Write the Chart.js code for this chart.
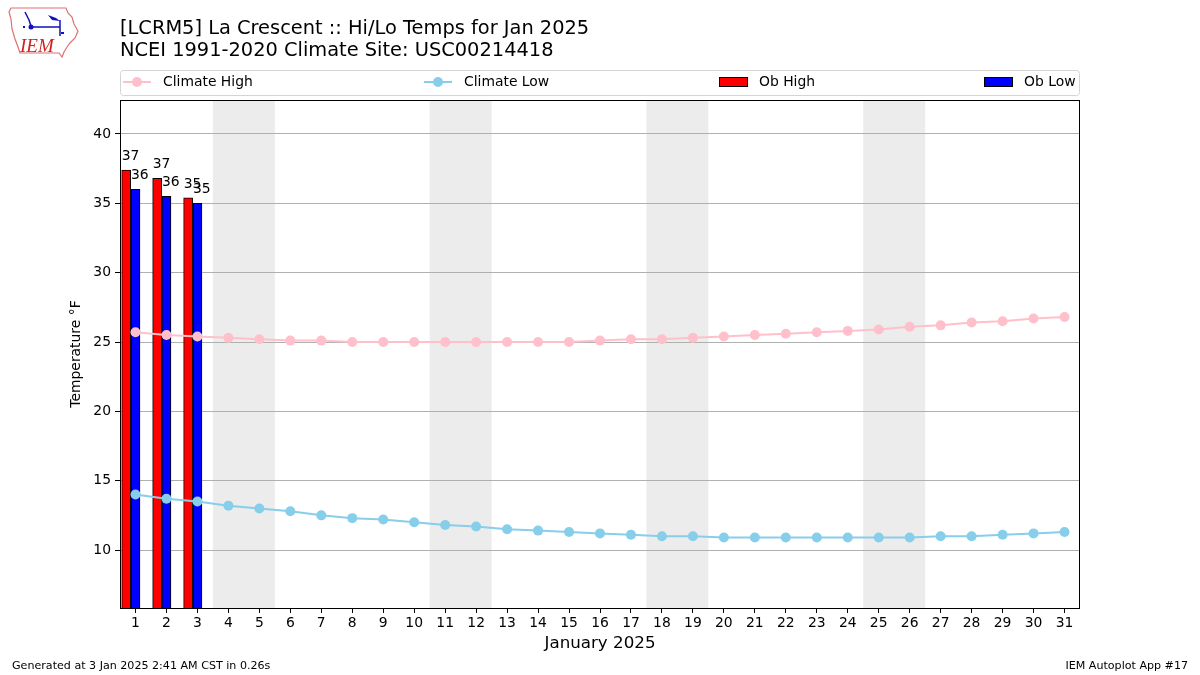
<!DOCTYPE html>
<html>
<head>
<meta charset="utf-8">
<script src="https://cdn.jsdelivr.net/npm/chart.js@4.4.1/dist/chart.umd.min.js"></script>
<style>
  html, body { margin: 0; padding: 0; background: #fff; }
  canvas { display: block; }
</style>
</head>
<body>
<canvas id="chart" width="1200" height="675"></canvas>
<script>
// days of January 2025
const days = [1, 2, 3, 4, 5, 6, 7, 8, 9, 10, 11, 12, 13, 14, 15, 16, 17, 18, 19, 20,
  21, 22, 23, 24, 25, 26, 27, 28, 29, 30, 31];
const climateHigh = [25.7, 25.5, 25.4, 25.3, 25.2, 25.1, 25.1, 25.0, 25.0, 25.0, 25.0,
  25.0, 25.0, 25.0, 25.0, 25.1, 25.2, 25.2, 25.3, 25.4, 25.5, 25.6, 25.7, 25.8, 25.9,
  26.1, 26.2, 26.4, 26.5, 26.7, 26.8];
const climateLow = [14.0, 13.7, 13.5, 13.2, 13.0, 12.8, 12.5, 12.3, 12.2, 12.0, 11.8,
  11.7, 11.5, 11.4, 11.3, 11.2, 11.1, 11.0, 11.0, 10.9, 10.9, 10.9, 10.9, 10.9, 10.9,
  10.9, 11.0, 11.0, 11.1, 11.2, 11.3];
const obDays = [1, 2, 3];
const obHigh = [37.4, 36.8, 35.4];
const obLow = [36.0, 35.5, 35.0];
const weekends = [[4, 5], [11, 12], [18, 19], [25, 26]];
const yTicks = [10, 15, 20, 25, 30, 35, 40];

const FONT = "'DejaVu Sans', sans-serif";

const legendItems = [
  { label: 'Climate High', kind: 'line', color: '#ffc0cb', x: 123 },
  { label: 'Climate Low', kind: 'line', color: '#87ceeb', x: 424 },
  { label: 'Ob High', kind: 'rect', color: '#ff0000', x: 719 },
  { label: 'Ob Low', kind: 'rect', color: '#0000ff', x: 984 },
];

function drawLogo(ctx) {
  ctx.save();
  // state outline
  ctx.strokeStyle = '#e07070';
  ctx.lineWidth = 1.2;
  ctx.beginPath();
  const pts = [[11, 8], [66, 8], [68, 13], [72, 17], [74, 24], [78, 31], [75, 38], [70, 43],
    [67, 47], [64, 52], [62, 57], [59, 53], [20, 53], [18, 47], [15, 39], [12, 29], [11, 19], [9, 12]];
  pts.forEach(([px, py], i) => i ? ctx.lineTo(px, py) : ctx.moveTo(px, py));
  ctx.closePath();
  ctx.stroke();
  // blue figure
  ctx.strokeStyle = '#1010c0';
  ctx.fillStyle = '#1010c0';
  ctx.lineWidth = 1.5;
  ctx.beginPath();
  ctx.moveTo(31, 27); ctx.lineTo(60, 27);
  ctx.moveTo(60, 20); ctx.lineTo(60, 36);
  ctx.moveTo(25, 12); ctx.lineTo(29, 20); ctx.lineTo(31, 26);
  ctx.stroke();
  ctx.beginPath(); ctx.arc(31, 27, 2.5, 0, Math.PI * 2); ctx.fill();
  ctx.beginPath();
  ctx.moveTo(48, 15); ctx.lineTo(56, 18); ctx.lineTo(60, 21); ctx.lineTo(52, 20); ctx.closePath();
  ctx.fill();
  ctx.fillRect(23, 26, 2, 2);
  ctx.fillRect(61, 32, 3, 2);
  // IEM
  ctx.fillStyle = '#d02020';
  ctx.font = "italic 19px 'Liberation Serif', 'DejaVu Serif', serif";
  ctx.textAlign = 'left';
  ctx.textBaseline = 'alphabetic';
  ctx.fillText('IEM', 20, 52);
  ctx.restore();
}

const decor = {
  id: 'decor',
  beforeDraw(chart) {
    const { ctx, chartArea: a, scales: { x } } = chart;
    ctx.save();
    ctx.fillStyle = '#ececec';
    weekends.forEach(([s, e]) => {
      const x0 = x.getPixelForValue(s - 0.5);
      const x1 = x.getPixelForValue(e + 0.5);
      ctx.fillRect(x0, a.top, x1 - x0, a.bottom - a.top);
    });
    ctx.restore();
  },
  afterDatasetsDraw(chart) {
    const { ctx } = chart;
    ctx.save();
    ctx.fillStyle = '#000';
    ctx.font = '13.9px ' + FONT;
    ctx.textAlign = 'left';
    ctx.textBaseline = 'alphabetic';
    [2, 3].forEach(di => {
      const meta = chart.getDatasetMeta(di);
      const vals = di === 2 ? obHigh : obLow;
      meta.data.forEach((bar, j) => {
        ctx.fillText(Math.round(vals[j]).toString(), bar.x - bar.width / 2, bar.y - 10);
      });
    });
    ctx.restore();
  },
  afterDraw(chart) {
    const { ctx, chartArea: a } = chart;
    ctx.save();
    // frame
    ctx.strokeStyle = '#000';
    ctx.lineWidth = 1;
    ctx.strokeRect(Math.round(a.left) + 0.5, Math.round(a.top) + 0.5,
      Math.round(a.right - a.left) - 1, Math.round(a.bottom - a.top));

    // titles
    ctx.fillStyle = '#000';
    ctx.textAlign = 'left';
    ctx.textBaseline = 'middle';
    ctx.font = '19.4px ' + FONT;
    ctx.fillText('[LCRM5] La Crescent :: Hi/Lo Temps for Jan 2025', 120, 29);
    ctx.fillText('NCEI 1991-2020 Climate Site: USC00214418', 120, 51);

    // legend
    ctx.fillStyle = 'rgba(255,255,255,0.8)';
    ctx.strokeStyle = '#d4d4d4';
    ctx.beginPath();
    ctx.roundRect(120.5, 70.5, 959, 25, 3);
    ctx.fill();
    ctx.stroke();
    ctx.font = '13.9px ' + FONT;
    legendItems.forEach(it => {
      const cy = 82;
      if (it.kind === 'line') {
        ctx.strokeStyle = it.color;
        ctx.lineWidth = 2;
        ctx.beginPath();
        ctx.moveTo(it.x, cy); ctx.lineTo(it.x + 28, cy);
        ctx.stroke();
        ctx.fillStyle = it.color;
        ctx.beginPath();
        ctx.arc(it.x + 14, cy, 5, 0, Math.PI * 2);
        ctx.fill();
      } else {
        ctx.fillStyle = it.color;
        ctx.fillRect(it.x, cy - 5, 28, 10);
        ctx.strokeStyle = '#000';
        ctx.lineWidth = 1;
        ctx.strokeRect(it.x + 0.5, cy - 4.5, 28, 9);
      }
      ctx.fillStyle = '#000';
      ctx.fillText(it.label, it.x + 40, cy);
    });

    // footer
    ctx.font = '11.1px ' + FONT;
    ctx.fillText('Generated at 3 Jan 2025 2:41 AM CST in 0.26s', 12, 666);
    ctx.textAlign = 'right';
    ctx.fillText('IEM Autoplot App #17', 1188, 666);
    ctx.restore();

    drawLogo(ctx);
  }
};

new Chart(document.getElementById('chart'), {
  type: 'line',
  data: {
    datasets: [
      {
        type: 'line', label: 'Climate High',
        data: days.map((d, i) => ({ x: d, y: climateHigh[i] })),
        borderColor: '#ffc0cb', backgroundColor: '#ffc0cb',
        borderWidth: 2, pointRadius: 5, pointHoverRadius: 5, pointBorderWidth: 0,
        order: 0
      },
      {
        type: 'line', label: 'Climate Low',
        data: days.map((d, i) => ({ x: d, y: climateLow[i] })),
        borderColor: '#87ceeb', backgroundColor: '#87ceeb',
        borderWidth: 2, pointRadius: 5, pointHoverRadius: 5, pointBorderWidth: 0,
        order: 0
      },
      {
        type: 'bar', label: 'Ob High',
        data: obDays.map((d, i) => ({ x: d - 0.3, y: obHigh[i] })),
        backgroundColor: '#ff0000', borderColor: '#000', borderWidth: 1,
        barThickness: 9, grouped: false, order: 1
      },
      {
        type: 'bar', label: 'Ob Low',
        data: obDays.map((d, i) => ({ x: d, y: obLow[i] })),
        backgroundColor: '#0000ff', borderColor: '#000', borderWidth: 1,
        barThickness: 9, grouped: false, order: 1
      }
    ]
  },
  options: {
    responsive: false,
    animation: false,
    devicePixelRatio: 1,
    layout: { padding: { left: 0, top: 100, right: 120, bottom: 0 } },
    plugins: { legend: { display: false }, tooltip: { enabled: false } },
    scales: {
      x: {
        type: 'linear', min: 0.5, max: 31.5, offset: false,
        afterBuildTicks: s => { s.ticks = days.map(v => ({ value: v })); },
        afterFit: s => { s.height = 67; },
        grid: { drawOnChartArea: false, offset: false, tickLength: 5, tickColor: '#000', tickWidth: 1 },
        border: { display: false },
        ticks: { color: '#000', font: { family: FONT, size: 13.9 }, padding: 2,
          maxRotation: 0, autoSkip: false },
        title: { display: true, text: 'January 2025', color: '#000',
          font: { family: FONT, size: 16.7 }, padding: { top: 0, bottom: 21 } }
      },
      y: {
        type: 'linear', min: 5.82, max: 42.45,
        afterBuildTicks: s => { s.ticks = yTicks.map(v => ({ value: v })); },
        afterFit: s => { s.width = 120; },
        grid: { color: '#b0b0b0', lineWidth: 1, tickLength: 5, tickColor: '#000' },
        border: { display: false },
        ticks: { color: '#000', font: { family: FONT, size: 13.9 }, padding: 4 },
        title: { display: true, text: 'Temperature °F', color: '#000',
          font: { family: FONT, size: 13.9 }, padding: { top: 68, bottom: 0 } }
      }
    }
  },
  plugins: [decor]
});
</script>
</body>
</html>
